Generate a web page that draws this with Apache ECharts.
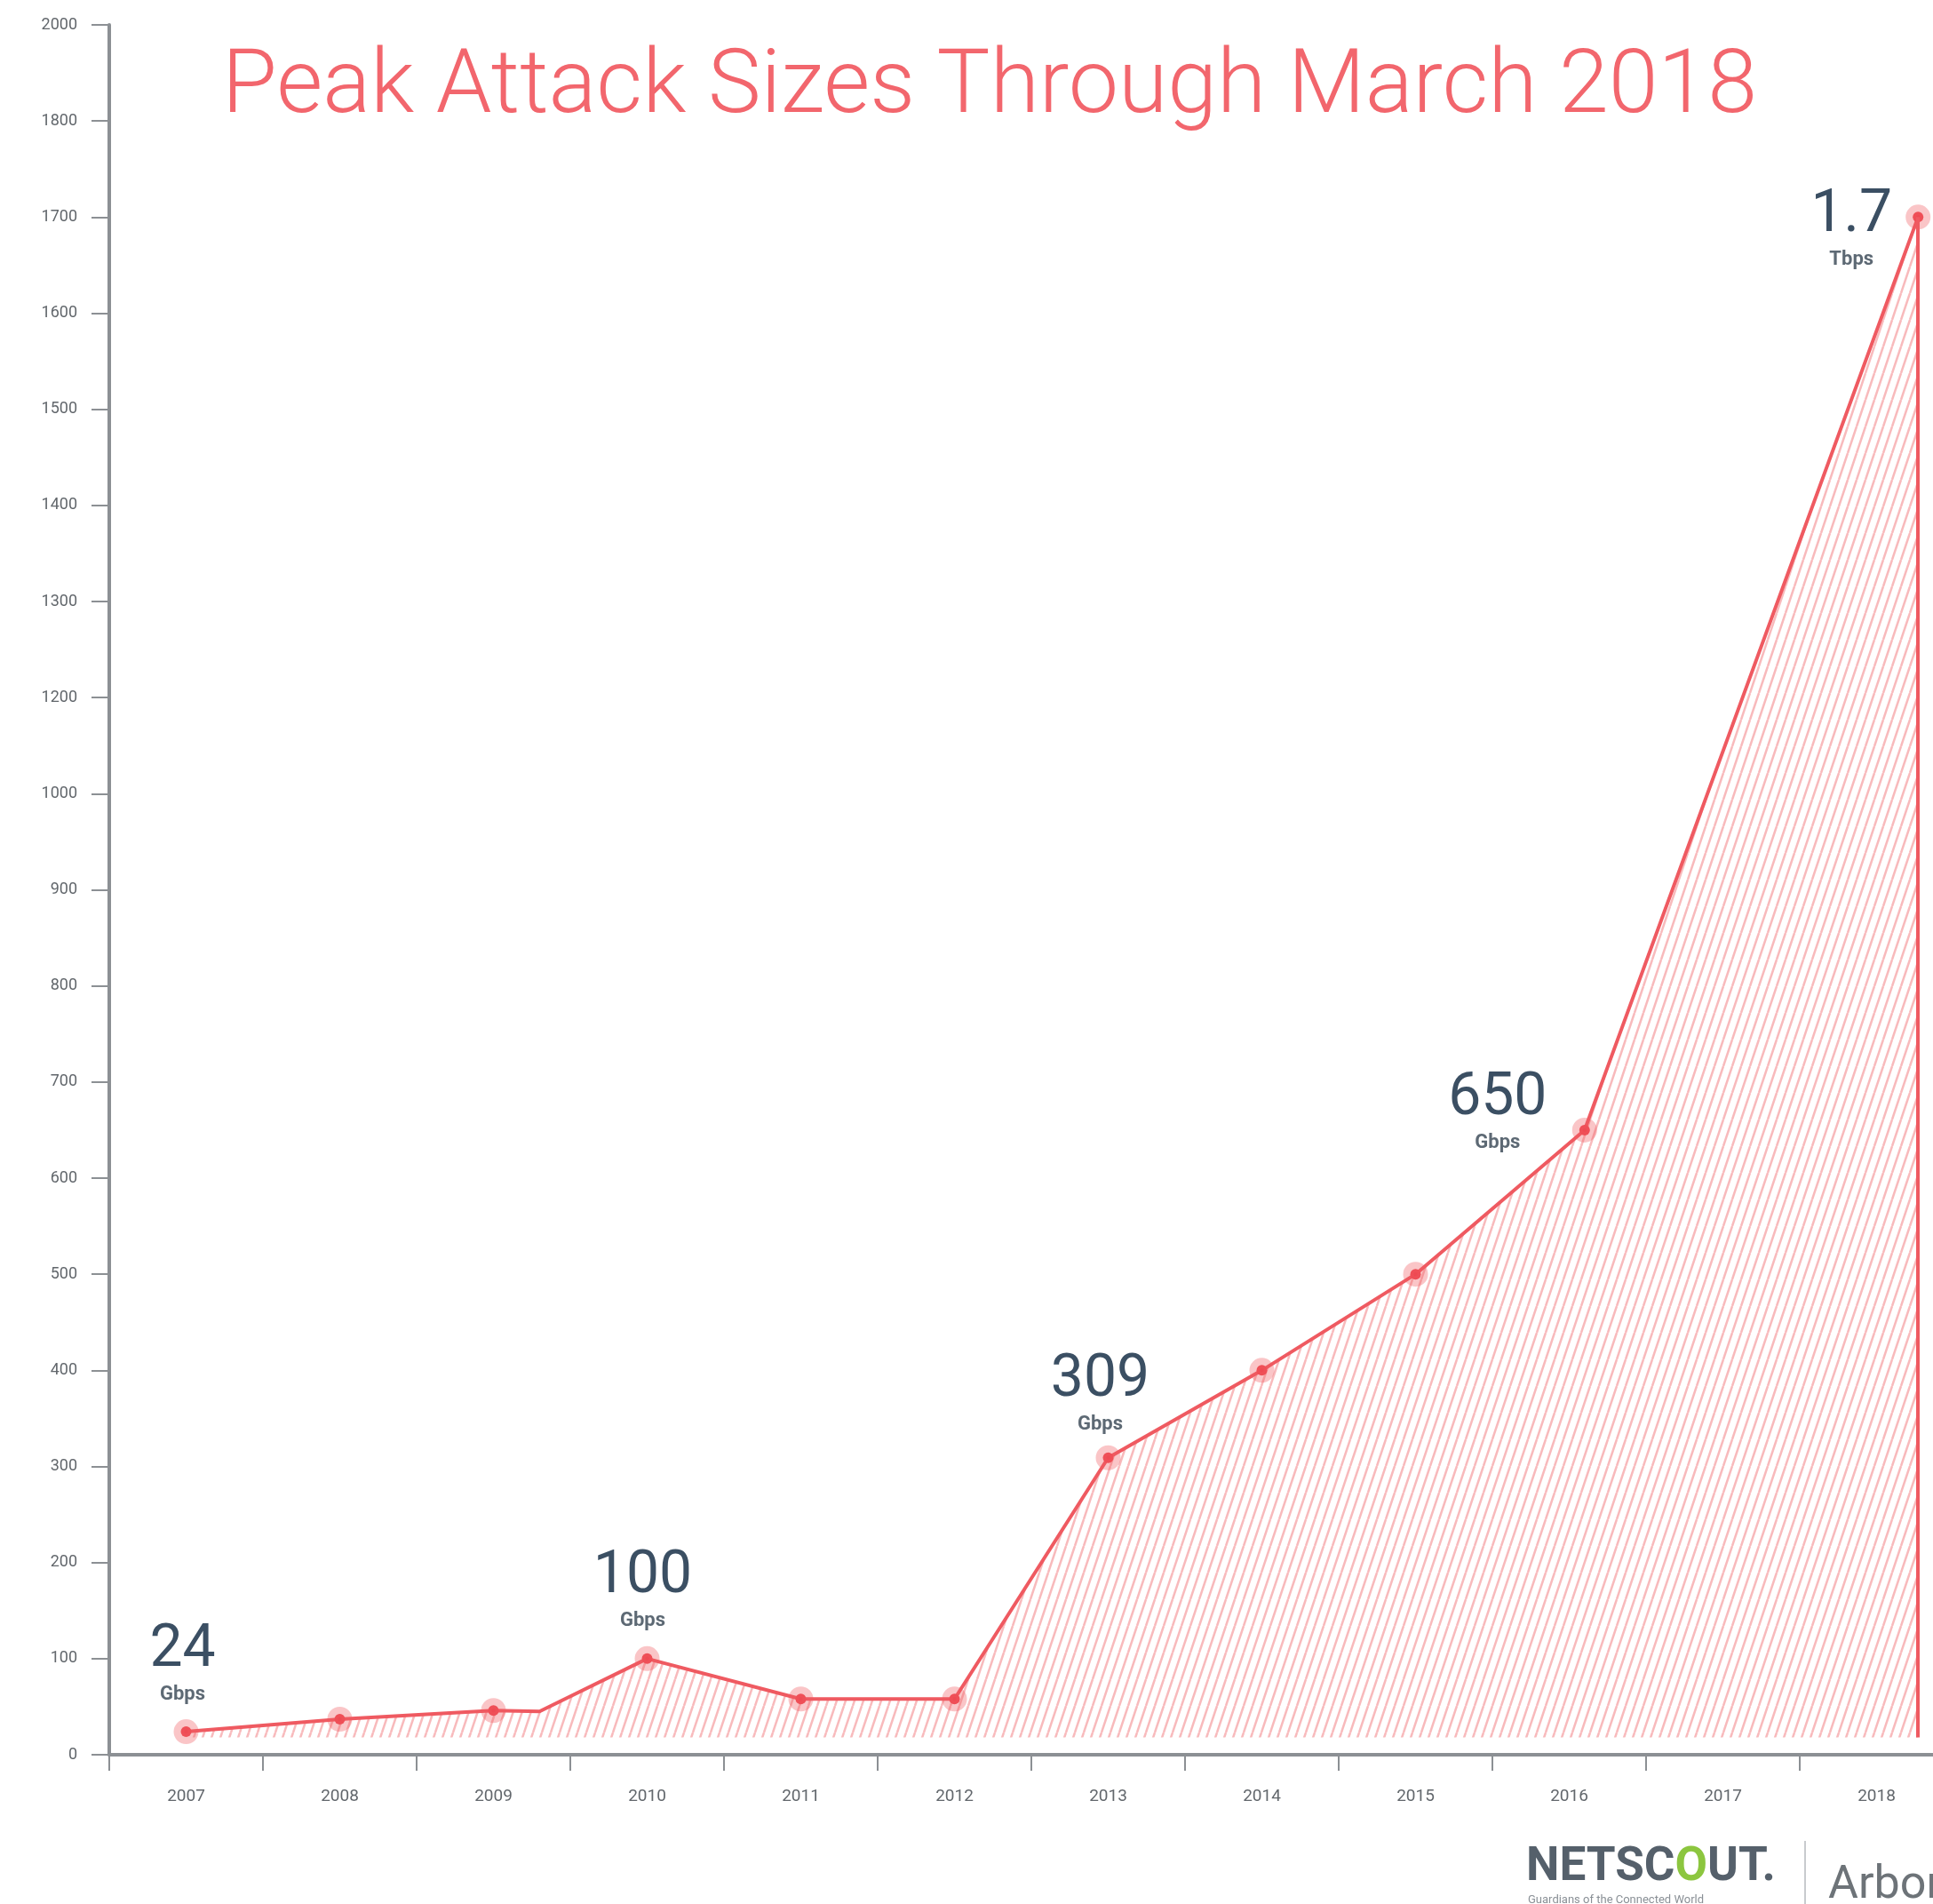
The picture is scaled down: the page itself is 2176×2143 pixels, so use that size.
<!DOCTYPE html>
<html>
<head>
<meta charset="utf-8">
<script src="https://cdn.jsdelivr.net/npm/echarts@6/dist/echarts.min.js"></script>
<style>
html,body{margin:0;padding:0;background:#fff;}
#chart{width:2176px;height:2143px;}
</style>
</head>
<body>
<div id="chart"></div>
<script>
// ---- data ----
const categories = ['2007','2008','2009','2010','2011','2012','2013','2014','2015','2016','2017','2018'];
// x positions (year, fractional where the point sits between category centres)
const pointYears = [2007, 2008, 2009, 2009.3, 2010, 2011, 2012, 2013, 2014, 2015, 2016.1, 2018.27];
// peak attack size in Gbps
const pointValues = [24, 37, 46, 45, 100, 58, 58, 309, 400, 500, 650, 1700];
const noSymbolIdx = [3];
// y tick labels as printed on the chart (evenly spaced)
const yTickLabels = ['0','100','200','300','400','500','600','700','800','900','1000','1200','1300','1400','1500','1600','1700','1800','2000'];
const yTickValues = [0,100,200,300,400,500,600,700,800,900,1000,1200,1300,1400,1500,1600,1700,1800,2000];
// callouts
const calloutIdx = [0, 4, 7, 10, 11];
const calloutNum = ['24', '100', '309', '650', '1.7'];
const calloutUnit = ['Gbps', 'Gbps', 'Gbps', 'Gbps', 'Tbps'];
const areaBase = 18;
const titleText = 'Peak Attack Sizes Through March 2018';

// map a value onto the evenly spaced printed ticks
function toAxis(v) {
  for (let i = 0; i < yTickValues.length - 1; i++) {
    if (v <= yTickValues[i + 1]) {
      return (i + (v - yTickValues[i]) / (yTickValues[i + 1] - yTickValues[i])) * 100;
    }
  }
  return (yTickValues.length - 1) * 100;
}

// style
const RED = '#ef5a61';
const calloutOffsets = [[-4, -77], [-5, -77], [-9, -72], [-98, -20], [-75, 13]];

// hatch pattern
const pat = document.createElement('canvas');
pat.width = 10; pat.height = 30;
(function () {
  const c = pat.getContext('2d');
  c.strokeStyle = 'rgba(240,110,115,0.48)';
  c.lineWidth = 2.5;
  for (let k = -1; k <= 1; k++) {
    c.beginPath();
    c.moveTo(k * 10, 30);
    c.lineTo(k * 10 + 10, 0);
    c.stroke();
  }
})();

const seriesData = pointYears.map((x, i) => {
  const item = { value: [x, toAxis(pointValues[i])] };
  if (noSymbolIdx.indexOf(i) >= 0) item.symbol = 'none';
  const ci = calloutIdx.indexOf(i);
  if (ci >= 0) {
    item.label = {
      show: true,
      position: 'inside',
      offset: calloutOffsets[ci],
      formatter: '{n|' + calloutNum[ci] + '}\n{u|' + calloutUnit[ci] + '}'
    };
  }
  return item;
});

const lastIdx = pointYears.length - 1;
const chart = echarts.init(document.getElementById('chart'), null, { renderer: 'canvas' });
chart.setOption({
  backgroundColor: '#ffffff',
  animation: false,
  grid: { left: 123, top: 28, right: -23, height: 1947, containLabel: false, outerBoundsMode: 'none' },
  xAxis: [
    {
      type: 'category',
      data: categories,
      boundaryGap: true,
      axisLine: { show: true, lineStyle: { color: '#8c9094', width: 4 } },
      axisTick: { show: true, length: 18, lineStyle: { color: '#8c9094', width: 2 } },
      axisLabel: { color: '#62676c', fontSize: 19, margin: 38, fontFamily: "'Liberation Sans Narrow', Roboto, sans-serif" },
      splitLine: { show: false }
    },
    {
      type: 'value',
      min: 2006.5,
      max: 2018.5,
      show: false,
      splitLine: { show: false }
    }
  ],
  yAxis: {
    type: 'value',
    min: 0,
    max: 1800,
    interval: 100,
    axisLine: { show: true, lineStyle: { color: '#8c9094', width: 4 } },
    axisTick: { show: true, length: 20, lineStyle: { color: '#8c9094', width: 2 } },
    axisLabel: {
      color: '#62676c', fontSize: 18, margin: 36,
      fontFamily: "'Liberation Sans Narrow', Roboto, sans-serif",
      formatter: v => yTickLabels[Math.round(v / 100)]
    },
    splitLine: { show: false }
  },
  graphic: [
    {
      type: 'text', x: 1114, y: 50,
      style: { text: titleText, fill: '#f2666d', font: '300 100.5px Roboto, sans-serif', textAlign: 'center', textVerticalAlign: 'top' }
    },
    {
      type: 'text', x: 1718, y: 2076,
      style: {
        text: '{a|NETSC}{g|O}{a|UT.}',
        rich: {
          a: { fill: '#55606b', font: 'bold 53px Roboto, sans-serif' },
          g: { fill: '#8cc63f', font: 'bold 53px Roboto, sans-serif' }
        }
      }
    },
    {
      type: 'text', x: 1720, y: 2132,
      style: { text: 'Guardians of the Connected World', fill: '#8a9096', font: '13px Roboto, sans-serif' }
    },
    {
      type: 'line', shape: { x1: 2032, y1: 2072, x2: 2032, y2: 2143 },
      style: { stroke: '#c8cbce', lineWidth: 2 }
    },
    {
      type: 'text', x: 2058, y: 2097,
      style: { text: 'Arbor', fill: '#6d7378', font: '52px Roboto, sans-serif' }
    }
  ],
  series: [
    {
      type: 'line',
      xAxisIndex: 1,
      yAxisIndex: 0,
      data: seriesData,
      symbol: 'circle',
      symbolSize: 12,
      showAllSymbol: true,
      lineStyle: { color: RED, width: 4 },
      itemStyle: { color: '#ee4a53', borderColor: 'rgba(240,90,95,0.35)', borderWidth: 16 },
      areaStyle: { origin: areaBase, color: { image: pat, repeat: 'repeat' }, opacity: 1 },
      label: {
        show: false,
        rich: {
          n: { color: '#3b4f63', fontSize: 66, lineHeight: 70, fontFamily: 'Roboto, sans-serif', align: 'center' },
          u: { color: '#5d6974', fontSize: 22, fontWeight: 'bold', lineHeight: 28, fontFamily: 'Roboto, sans-serif', align: 'center' }
        }
      },
      markLine: {
        silent: true,
        symbol: 'none',
        label: { show: false },
        lineStyle: { color: RED, width: 4, type: 'solid' },
        data: [[
          { coord: [pointYears[lastIdx], toAxis(pointValues[lastIdx])] },
          { coord: [pointYears[lastIdx], areaBase] }
        ]]
      },
      z: 3
    }
  ]
});
</script>
</body>
</html>
